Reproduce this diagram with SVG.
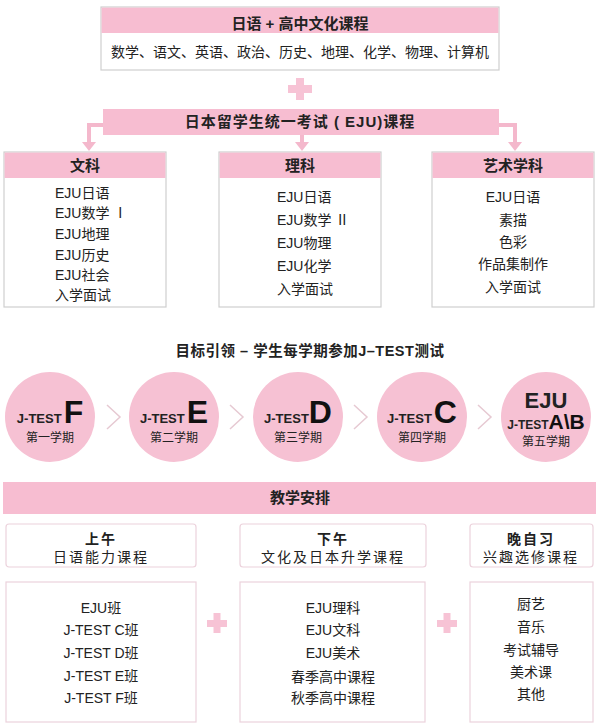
<svg xmlns="http://www.w3.org/2000/svg" width="600" height="724" viewBox="0 0 600 724">
<defs>
<style>
.cjk{font-family:"Liberation Sans","Noto Sans CJK SC",sans-serif;fill:#222}
.b{font-weight:bold}
.hdr{fill:#f7bdd1}
.box{fill:#fff;stroke:#cfcfcf;stroke-width:1.2}
.pbox{fill:#fff;stroke:#ecd2dc;stroke-width:1.2}
.conn{fill:none;stroke:#f4b8cc;stroke-width:4}
.chev{fill:none;stroke:#e6c9d2;stroke-width:1.5}
.plus{fill:#f7c3d5}
.circ{fill:#f6c1d3}
</style>
</defs>
<rect width="600" height="724" fill="#fff"/>

<g id="top">
<rect class="box" x="101" y="7" width="398" height="63"/>
<rect class="hdr" x="101.6" y="7.6" width="396.8" height="25.4"/>
<text class="cjk b" x="300" y="29" font-size="15" text-anchor="middle">日语 + 高中文化课程</text>
<text class="cjk" x="300" y="57" font-size="14" text-anchor="middle">数学、语文、英语、政治、历史、地理、化学、物理、计算机</text>
</g>

<g id="plus1"><rect class="plus" x="288" y="85" width="24" height="8"/><rect class="plus" x="296" y="78" width="8" height="22"/></g>

<g id="eju">
<rect class="hdr" x="103" y="109" width="396" height="26"/>
<text class="cjk b" x="300" y="127" font-size="15" text-anchor="middle" letter-spacing="1">日本留学生统一考试 ( EJU)课程</text>
</g>

<g id="connectors">
<path class="conn" d="M103,125 H89 V143"/>
<path d="M82,142 L96,142 L89,151 Z" fill="#f4b8cc"/>
<path class="conn" d="M302,135 V143"/>
<path d="M295,142 L309,142 L302,151 Z" fill="#f4b8cc"/>
<path class="conn" d="M499,125 H515 V143"/>
<path d="M508,142 L522,142 L515,151 Z" fill="#f4b8cc"/>
</g>

<g id="wenke">
<rect class="box" x="4" y="152" width="162" height="155"/>
<rect class="hdr" x="4.6" y="152.6" width="160.8" height="25.4"/>
<text class="cjk b" x="85" y="171" font-size="15" text-anchor="middle">文科</text>
<g class="cjk" font-size="14">
<text x="55" y="198">EJU日语</text>
<text x="55" y="218">EJU数学 Ⅰ</text>
<text x="55" y="239">EJU地理</text>
<text x="55" y="260">EJU历史</text>
<text x="55" y="280">EJU社会</text>
<text x="55" y="300">入学面试</text>
</g>
</g>

<g id="like">
<rect class="box" x="219" y="152" width="162" height="155"/>
<rect class="hdr" x="219.6" y="152.6" width="160.8" height="25.4"/>
<text class="cjk b" x="300" y="171" font-size="15" text-anchor="middle">理科</text>
<g class="cjk" font-size="14">
<text x="277" y="202">EJU日语</text>
<text x="277" y="225">EJU数学 Ⅱ</text>
<text x="277" y="248">EJU物理</text>
<text x="277" y="271">EJU化学</text>
<text x="277" y="294">入学面试</text>
</g>
</g>

<g id="yishu">
<rect class="box" x="432" y="152" width="162" height="155"/>
<rect class="hdr" x="432.6" y="152.6" width="160.8" height="25.4"/>
<text class="cjk b" x="513" y="171" font-size="15" text-anchor="middle">艺术学科</text>
<g class="cjk" font-size="14" text-anchor="middle">
<text x="513" y="202">EJU日语</text>
<text x="513" y="225">素描</text>
<text x="513" y="247">色彩</text>
<text x="513" y="269">作品集制作</text>
<text x="513" y="292">入学面试</text>
</g>
</g>

<text class="cjk b" x="310" y="356" font-size="14.5" text-anchor="middle" letter-spacing="0.5">目标引领 – 学生每学期参加J–TEST测试</text>

<g id="chevrons">
<path class="chev" d="M107,405 L120,417 L107,429"/>
<path class="chev" d="M230,405 L243,417 L230,429"/>
<path class="chev" d="M354,405 L367,417 L354,429"/>
<path class="chev" d="M478,405 L491,417 L478,429"/>
</g>

<g id="s1">
<circle class="circ" cx="50" cy="417" r="45"/>
<text class="cjk b" x="50" y="423" text-anchor="middle"><tspan font-size="13">J-TEST</tspan><tspan font-size="32" dx="2" fill="#111">F</tspan></text>
<text class="cjk" x="50" y="442" font-size="12" text-anchor="middle">第一学期</text>
</g>
<g id="s2">
<circle class="circ" cx="174" cy="417" r="45"/>
<text class="cjk b" x="174" y="423" text-anchor="middle"><tspan font-size="13">J-TEST</tspan><tspan font-size="32" dx="2" fill="#111">E</tspan></text>
<text class="cjk" x="174" y="442" font-size="12" text-anchor="middle">第二学期</text>
</g>
<g id="s3">
<circle class="circ" cx="298" cy="417" r="45"/>
<text class="cjk b" x="298" y="423" text-anchor="middle"><tspan font-size="13">J-TEST</tspan><tspan font-size="32" fill="#111">D</tspan></text>
<text class="cjk" x="298" y="442" font-size="12" text-anchor="middle">第三学期</text>
</g>
<g id="s4">
<circle class="circ" cx="422" cy="417" r="45"/>
<text class="cjk b" x="422" y="423" text-anchor="middle"><tspan font-size="13">J-TEST</tspan><tspan font-size="32" dx="2" fill="#111">C</tspan></text>
<text class="cjk" x="422" y="442" font-size="12" text-anchor="middle">第四学期</text>
</g>
<g id="s5">
<circle class="circ" cx="546" cy="417" r="45"/>
<text class="cjk b" x="546" y="408" font-size="22" text-anchor="middle" fill="#111">EJU</text>
<text class="cjk b" x="546" y="429" text-anchor="middle"><tspan font-size="12">J-TEST</tspan><tspan font-size="21" fill="#111">A\B</tspan></text>
<text class="cjk" x="546" y="446" font-size="12" text-anchor="middle">第五学期</text>
</g>

<g id="jiaoxue">
<rect class="hdr" x="3" y="482" width="593" height="32"/>
<text class="cjk b" x="300" y="503" font-size="15" text-anchor="middle">教学安排</text>
</g>

<g id="am">
<rect class="pbox" x="6" y="524" width="190" height="43" rx="3"/>
<text class="cjk b" x="101" y="544" font-size="14" text-anchor="middle" letter-spacing="2">上午</text>
<text class="cjk" x="101" y="562" font-size="14" text-anchor="middle" letter-spacing="2">日语能力课程</text>
</g>
<g id="pm">
<rect class="pbox" x="240" y="524" width="186" height="43" rx="3"/>
<text class="cjk b" x="333" y="544" font-size="14" text-anchor="middle" letter-spacing="2">下午</text>
<text class="cjk" x="333" y="562" font-size="14" text-anchor="middle" letter-spacing="2">文化及日本升学课程</text>
</g>
<g id="eve">
<rect class="pbox" x="470" y="524" width="123" height="43" rx="3"/>
<text class="cjk b" x="531" y="544" font-size="14" text-anchor="middle" letter-spacing="2">晚自习</text>
<text class="cjk" x="531" y="562" font-size="14" text-anchor="middle" letter-spacing="2">兴趣选修课程</text>
</g>

<g id="am-list">
<rect class="pbox" x="6" y="582" width="190" height="140"/>
<g class="cjk" font-size="14" text-anchor="middle">
<text x="101" y="613">EJU班</text>
<text x="101" y="635">J-TEST C班</text>
<text x="101" y="658">J-TEST D班</text>
<text x="101" y="681">J-TEST E班</text>
<text x="101" y="703">J-TEST F班</text>
</g>
</g>
<g id="plus2"><rect class="plus" x="207" y="620" width="20" height="7"/><rect class="plus" x="213.5" y="613" width="7" height="20"/></g>
<g id="pm-list">
<rect class="pbox" x="240" y="582" width="185" height="140"/>
<g class="cjk" font-size="14" text-anchor="middle">
<text x="333" y="613">EJU理科</text>
<text x="333" y="635">EJU文科</text>
<text x="333" y="658">EJU美术</text>
<text x="333" y="682">春季高中课程</text>
<text x="333" y="703">秋季高中课程</text>
</g>
</g>
<g id="plus3"><rect class="plus" x="437" y="620" width="20" height="7"/><rect class="plus" x="443.5" y="613" width="7" height="20"/></g>
<g id="eve-list">
<rect class="pbox" x="470" y="582" width="123" height="140"/>
<g class="cjk" font-size="14" text-anchor="middle">
<text x="531" y="609">厨艺</text>
<text x="531" y="632">音乐</text>
<text x="531" y="655">考试辅导</text>
<text x="531" y="677">美术课</text>
<text x="531" y="699">其他</text>
</g>
</g>
</svg>
